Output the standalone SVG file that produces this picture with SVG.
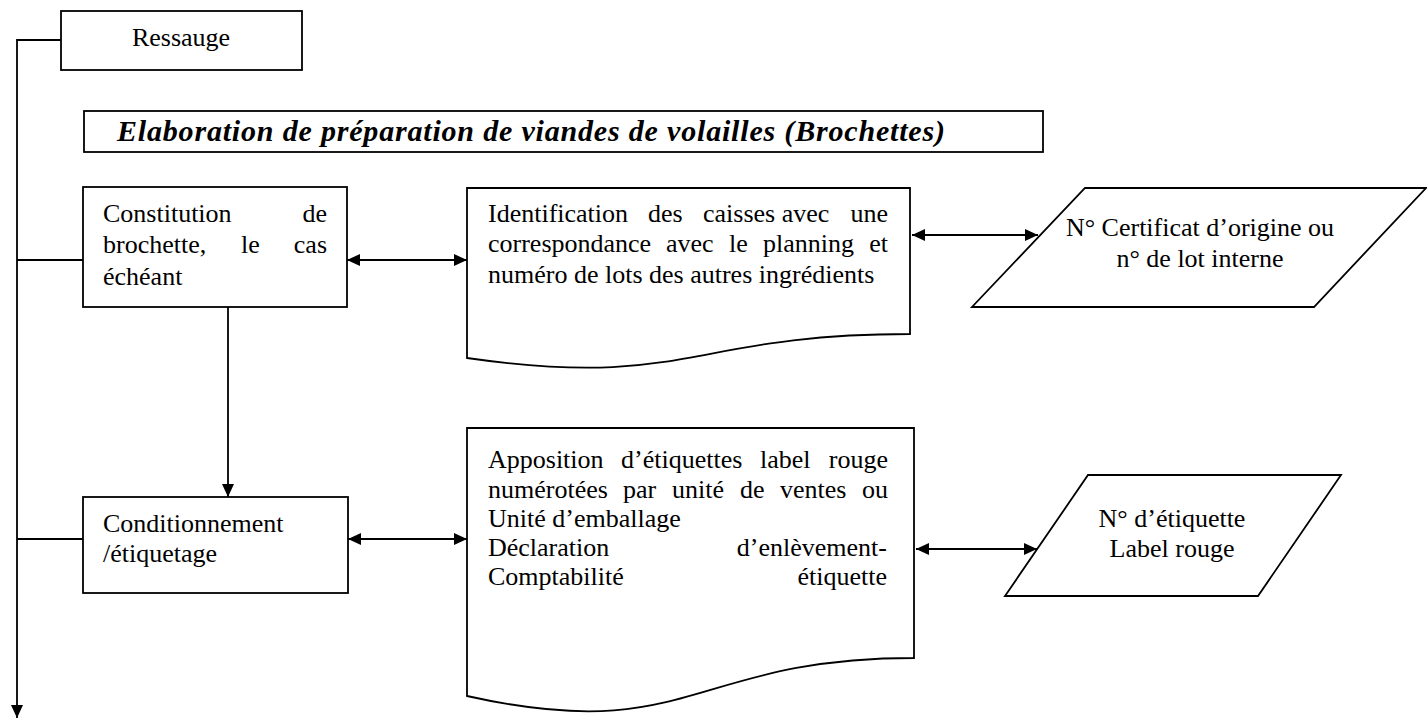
<svg xmlns="http://www.w3.org/2000/svg" width="1427" height="725" viewBox="0 0 1427 725">
<style>
.shape{fill:#fff;stroke:#000;stroke-width:1.8}
.line{fill:none;stroke:#000;stroke-width:1.8}
text{font-family:"Liberation Serif","Times New Roman",serif;font-size:26px;fill:#000}
.title{font-weight:bold;font-style:italic;font-size:30px}
.mid{text-anchor:middle}
.end{text-anchor:end}
</style>
<defs>
<marker id="arr" viewBox="0 0 13 12" refX="13" refY="6" markerWidth="13" markerHeight="12" markerUnits="userSpaceOnUse" orient="auto-start-reverse">
<path d="M0,0 L13,6 L0,12 z" fill="#000"/>
</marker>
</defs>
<rect width="1427" height="725" fill="#fff"/>
<g id="connectors">
<path class="line" d="M61,40 H17 V718" marker-end="url(#arr)"/>
<path class="line" d="M17,260 H83"/>
<path class="line" d="M17,539 H83"/>
<path class="line" d="M228,307 V497" marker-end="url(#arr)"/>
<path class="line" d="M347,260 H467" marker-start="url(#arr)" marker-end="url(#arr)"/>
<path class="line" d="M912,235 H1038" marker-start="url(#arr)" marker-end="url(#arr)"/>
<path class="line" d="M348,539 H467" marker-start="url(#arr)" marker-end="url(#arr)"/>
<path class="line" d="M916,549 H1037" marker-start="url(#arr)" marker-end="url(#arr)"/>
</g>
<g id="ressauge">
<rect class="shape" x="61" y="11" width="241" height="59"/>
<text class="mid" x="181" y="46">Ressauge</text>
</g>
<g id="titre">
<rect class="shape" x="84" y="111" width="959" height="41"/>
<text class="title" x="117" y="141" textLength="828" lengthAdjust="spacing">Elaboration de préparation de viandes de volailles (Brochettes)</text>
</g>
<g id="constitution">
<rect class="shape" x="83" y="187" width="264" height="120"/>
<text x="103" y="222">Constitution</text>
<text class="end" x="327" y="222">de</text>
<text x="103" y="253">brochette,</text>
<text x="241" y="253">le</text>
<text class="end" x="327" y="253">cas</text>
<text x="103" y="285">échéant</text>
</g>
<g id="identification">
<path class="shape" d="M467,188 H910 V334 C688.5,334 688.5,389.6 467,358 Z"/>
<text x="488" y="222">Identification</text>
<text x="648" y="222">des</text>
<text x="703" y="222">caisses avec</text>
<text class="end" x="888" y="222">une</text>
<text x="488" y="252">correspondance</text>
<text x="666" y="252">avec</text>
<text x="729" y="252">le</text>
<text x="763" y="252">planning</text>
<text class="end" x="888" y="252">et</text>
<text x="488" y="283">numéro de lots des autres ingrédients</text>
</g>
<g id="certificat">
<polygon class="shape" points="1085,188 1426,188 1314,307 972,307"/>
<text class="mid" x="1200" y="236">N° Certificat d’origine ou</text>
<text class="mid" x="1200" y="267">n° de lot interne</text>
</g>
<g id="conditionnement">
<rect class="shape" x="83" y="497" width="265" height="96"/>
<text x="103" y="532">Conditionnement</text>
<text x="103" y="562">/étiquetage</text>
</g>
<g id="apposition">
<path class="shape" d="M467,428 H914 V658 C690.5,658 690.5,746 467,696 Z"/>
<text x="488" y="468">Apposition</text>
<text x="621" y="468">d’étiquettes</text>
<text x="760" y="468">label</text>
<text class="end" x="888" y="468">rouge</text>
<text x="488" y="498">numérotées</text>
<text x="623" y="498">par</text>
<text x="672" y="498">unité</text>
<text x="740" y="498">de</text>
<text x="780" y="498">ventes</text>
<text class="end" x="888" y="498">ou</text>
<text x="488" y="527">Unité d’emballage</text>
<text x="488" y="556">Déclaration</text>
<text class="end" x="887" y="556">d’enlèvement-</text>
<text x="488" y="585">Comptabilité</text>
<text class="end" x="887" y="585">étiquette</text>
</g>
<g id="etiquette">
<polygon class="shape" points="1088,475 1341,475 1258,596 1005,596"/>
<text class="mid" x="1172" y="527">N° d’étiquette</text>
<text class="mid" x="1172" y="557">Label rouge</text>
</g>
</svg>
